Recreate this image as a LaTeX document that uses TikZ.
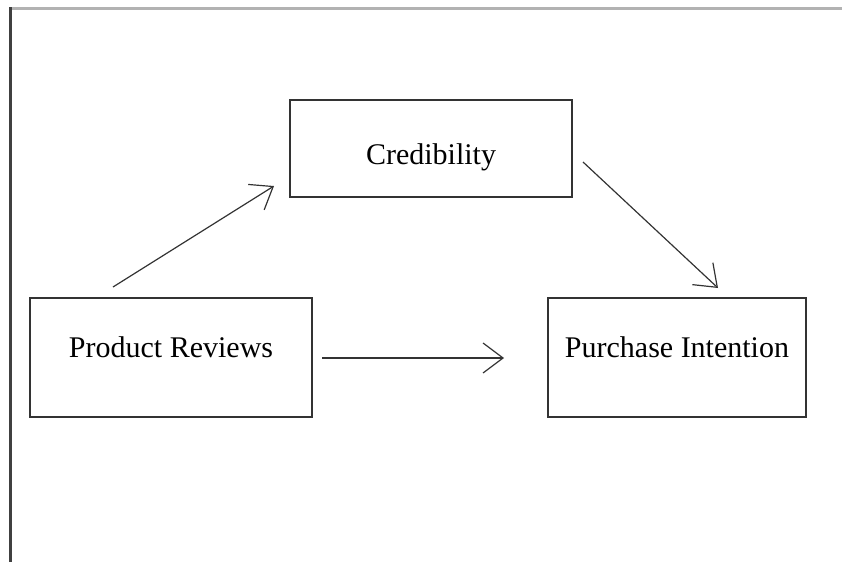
\documentclass[tikz,border=0pt]{standalone}
\usepackage{fontspec}
\setmainfont{Liberation Serif}
\usetikzlibrary{arrows.meta}

\tikzset{
  varbox/.style={draw=black!80,line width=1.4pt,inner sep=0pt,font=\fontsize{30}{35}\selectfont},
  path/.style={draw=black!80,line width=1.2pt,-{Straight Barb[length=20pt,width=30pt,line width=1.2pt]}}
}

\begin{document}
\begin{tikzpicture}[x=1pt,y=-1pt]

      \useasboundingbox (0,0) rectangle (842,562);

      % frame
      \draw[black!30,line width=3pt] (9,8) -- (842,8);
      \draw[black!75,line width=3pt] (10,7) -- (10,562);

      % variables
      \node[varbox,minimum width=282pt,minimum height=97pt] (cred) at (431,148.5) {\raisebox{-16pt}[0pt][0pt]{Credibility}};
      \node[varbox,minimum width=282pt,minimum height=119pt] (rev) at (171,357.5) {\raisebox{0pt}[0pt][0pt]{Product Reviews}};
      \node[varbox,minimum width=258pt,minimum height=119pt] (int) at (677,357.5) {\raisebox{0pt}[0pt][0pt]{Purchase Intention}};

      % arrow ends
      \coordinate (a1) at (113,287);
      \coordinate (a2) at (274,186);
      \coordinate (b1) at (583,162);
      \coordinate (b2) at (718,288);
      \coordinate (c1) at (322,358);
      \coordinate (c2) at (504,358);

      % paths
      \draw[path] (a1) -- (a2);
      \draw[path] (b1) -- (b2);
      \draw[path] (c1) -- (c2);

    \end{tikzpicture}
\end{document}
